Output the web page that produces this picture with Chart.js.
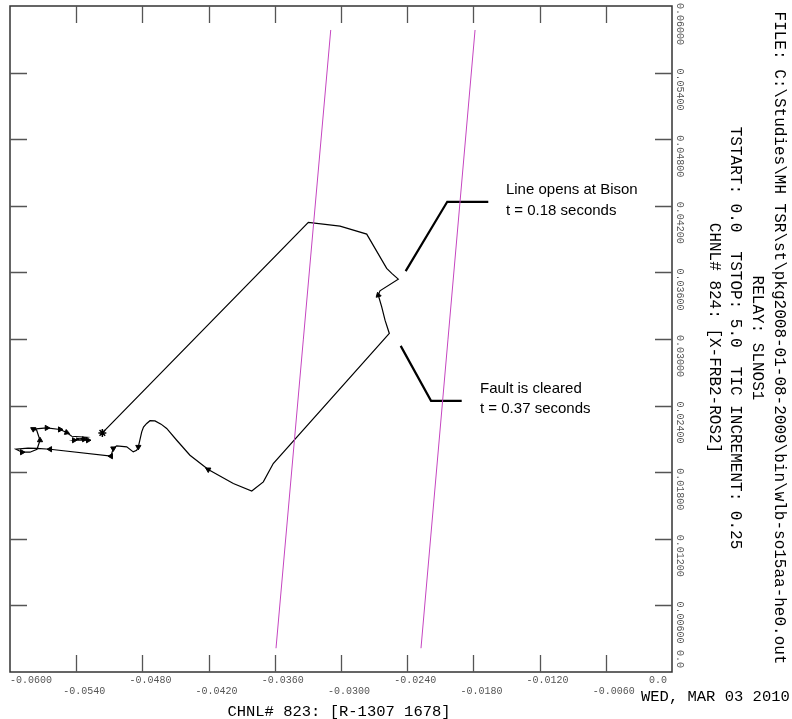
<!DOCTYPE html>
<html>
<head>
<meta charset="utf-8">
<script src="https://cdn.jsdelivr.net/npm/chart.js@4"></script>
<style>
  html, body { margin: 0; padding: 0; background: #fff; }
  canvas { display: block; }
</style>
</head>
<body>
<canvas id="rx-chart" width="792" height="719"></canvas>
<script>
// trajectory of the impedance seen by the relay (R on x, X on y)
const traj_x = [-0.05163, -0.03296, -0.03009, -0.02767, -0.02586, -0.02540, -0.02481, -0.02647, -0.02662,
    -0.02631, -0.02601, -0.02562, -0.03614, -0.03704, -0.03809, -0.03976, -0.04203, -0.04369, -0.04489,
    -0.04580, -0.04631, -0.04686, -0.04731, -0.04761, -0.04790, -0.04806, -0.04837, -0.04852, -0.04883,
    -0.04942, -0.05033, -0.05064, -0.05085, -0.05637, -0.05758, -0.05837, -0.05946, -0.05891, -0.05819,
    -0.05755, -0.05728, -0.05758, -0.05789, -0.05667, -0.05547, -0.05486, -0.05441, -0.05305, -0.05420,
    -0.05293, -0.05402, -0.05329];
const traj_y = [0.02154, 0.04051, 0.04017, 0.03945, 0.03636, 0.03591, 0.03539, 0.03434, 0.03395,
    0.03290, 0.03170, 0.03050, 0.01878, 0.01713, 0.01631, 0.01698, 0.01824, 0.01953, 0.02088,
    0.02194, 0.02233, 0.02262, 0.02264, 0.02239, 0.02206, 0.02163, 0.02028, 0.01998, 0.01983,
    0.02028, 0.02037, 0.02014, 0.01944, 0.02007, 0.02014, 0.02016, 0.02007, 0.01980, 0.01980,
    0.02007, 0.02088, 0.02178, 0.02188, 0.02199, 0.02185, 0.02158, 0.02124, 0.02115, 0.02088,
    0.02088, 0.02106, 0.02097];

// direction arrows along the trajectory (rotation in degrees)
const arrow_x = [-0.02662, -0.04203, -0.04837, -0.05064, -0.05085, -0.05637, -0.05891, -0.05728,
    -0.05789, -0.05667, -0.05547, -0.05486, -0.05420, -0.05329, -0.05293];
const arrow_y = [0.03395, 0.01824, 0.02028, 0.02014, 0.01944, 0.02007, 0.01980, 0.02088,
    0.02188, 0.02199, 0.02185, 0.02158, 0.02088, 0.02097, 0.02088];
const arrow_rot = [225, 300, 180, 300, 270, 270, 90, 0, 180, 90, 90, 110, 90, 90, 90];

// relay characteristic lines (magenta)
const zone_a_x = [-0.03093, -0.03589];
const zone_a_y = [0.05784, 0.00214];
const zone_b_x = [-0.01785, -0.02275];
const zone_b_y = [0.05784, 0.00214];

// callout leaders
const lead_a_x = [-0.02414, -0.02037, -0.01665];
const lead_a_y = [0.03612, 0.04236, 0.04236];
const lead_b_x = [-0.02459, -0.02184, -0.01906];
const lead_b_y = [0.02938, 0.02443, 0.02443];
const note_a = ['Line opens at Bison', 't = 0.18 seconds'];
const note_a_at = [-0.01505, 0.04342];
const note_b = ['Fault is cleared', 't = 0.37 seconds'];
const note_b_at = [-0.01740, 0.02548];

// axes
const x_ticks = [-0.06, -0.054, -0.048, -0.042, -0.036, -0.030, -0.024, -0.018, -0.012, -0.006, 0];
const x_labels = ['-0.0600', '-0.0540', '-0.0480', '-0.0420', '-0.0360', '-0.0300', '-0.0240',
    '-0.0180', '-0.0120', '-0.0060', '0.0'];
const y_ticks = [0.06, 0.054, 0.048, 0.042, 0.036, 0.030, 0.024, 0.018, 0.012, 0.006, 0];
const y_labels = ['0.06000', '0.05400', '0.04800', '0.04200', '0.03600', '0.03000', '0.02400',
    '0.01800', '0.01200', '0.00600', '0.0'];

const header_lines = [
    'FILE: C:\\Studies\\MH TSR\\st\\pkg2008-01-08-2009\\bin\\wlb-so15aa-he0.out',
    'RELAY: SLNOS1',
    'TSTART: 0.0  TSTOP: 5.0  TIC INCREMENT: 0.25',
    'CHNL# 824: [X-FRB2-ROS2]'
];
const header_cols = [779, 757, 735, 714];
const x_title = 'CHNL# 823: [R-1307 1678]';
const date_text = 'WED, MAR 03 2010';

function pts(xs, ys) {
    return xs.map((v, i) => ({x: v, y: ys[i]}));
}

const frame_plugin = {
    id: 'frame',
    afterDraw(chart) {
        const ctx = chart.ctx;
        const xs = chart.scales.x, ys = chart.scales.y;
        const a = chart.chartArea;
        ctx.save();

        // border
        ctx.strokeStyle = '#333';
        ctx.lineWidth = 1.5;
        ctx.strokeRect(a.left, a.top, a.right - a.left, a.bottom - a.top);

        // inward tick marks
        ctx.strokeStyle = '#555';
        ctx.lineWidth = 1.3;
        const tl = 17;
        ctx.beginPath();
        x_ticks.forEach((v, i) => {
            if (i == 0 || i == x_ticks.length - 1) return;
            const px = Math.round(xs.getPixelForValue(v)) + 0.5;
            ctx.moveTo(px, a.top); ctx.lineTo(px, a.top + tl);
            ctx.moveTo(px, a.bottom); ctx.lineTo(px, a.bottom - tl);
        });
        y_ticks.forEach((v, i) => {
            if (i == 0 || i == y_ticks.length - 1) return;
            const py = Math.round(ys.getPixelForValue(v)) + 0.5;
            ctx.moveTo(a.left, py); ctx.lineTo(a.left + tl, py);
            ctx.moveTo(a.right, py); ctx.lineTo(a.right - tl, py);
        });
        ctx.stroke();

        // x tick labels, staggered on two rows
        ctx.font = '10px "Liberation Mono"';
        ctx.fillStyle = '#555';
        ctx.textBaseline = 'middle';
        ctx.textAlign = 'left';
        x_labels.forEach((t, i) => {
            const w = ctx.measureText(t).width;
            let left = xs.getPixelForValue(x_ticks[i]) + 8 - w / 2;
            left = Math.max(left, a.left);
            left = Math.min(left, a.right - 5 - w);
            ctx.fillText(t, left, i % 2 == 0 ? 680 : 691);
        });

        // y tick labels, rotated, right of the frame
        y_labels.forEach((t, i) => {
            const w = ctx.measureText(t).width;
            let top = ys.getPixelForValue(y_ticks[i]) + 17 - w / 2;
            top = Math.max(top, 3);
            top = Math.min(top, a.bottom - 4 - w);
            ctx.save();
            ctx.translate(680, top);
            ctx.rotate(Math.PI / 2);
            ctx.fillText(t, 0, 0);
            ctx.restore();
        });

        // run information
        ctx.font = '16px "Liberation Mono"';
        ctx.fillStyle = '#000';
        ctx.textAlign = 'center';
        header_lines.forEach((t, i) => {
            ctx.save();
            ctx.translate(header_cols[i], 338);
            ctx.rotate(Math.PI / 2);
            ctx.fillText(t, 0, 0);
            ctx.restore();
        });
        ctx.font = '15.5px "Liberation Mono"';
        ctx.fillText(x_title, 339, 712);
        ctx.textAlign = 'left';
        ctx.fillText(date_text, 641, 697);

        // callouts
        ctx.font = '15px "Liberation Sans"';
        note_a.forEach((t, i) => {
            ctx.fillText(t, xs.getPixelForValue(note_a_at[0]), ys.getPixelForValue(note_a_at[1]) + i * 21);
        });
        note_b.forEach((t, i) => {
            ctx.fillText(t, xs.getPixelForValue(note_b_at[0]), ys.getPixelForValue(note_b_at[1]) + i * 20);
        });
        ctx.restore();
    }
};

new Chart(document.getElementById('rx-chart'), {
    type: 'scatter',
    data: {
        datasets: [
            {
                data: pts(zone_a_x, zone_a_y),
                showLine: true, borderColor: '#c545c0', borderWidth: 1, pointRadius: 0
            },
            {
                data: pts(zone_b_x, zone_b_y),
                showLine: true, borderColor: '#c545c0', borderWidth: 1, pointRadius: 0
            },
            {
                data: pts(traj_x, traj_y),
                showLine: true, borderColor: '#000', borderWidth: 1.2, pointRadius: 0
            },
            {
                data: pts(arrow_x, arrow_y),
                showLine: false, pointStyle: 'triangle', pointRadius: 3,
                rotation: arrow_rot, backgroundColor: '#000', borderColor: '#000', borderWidth: 1
            },
            {
                data: pts([traj_x[0]], [traj_y[0]]),
                showLine: false, pointStyle: 'star', pointRadius: 4,
                borderColor: '#000', borderWidth: 1.5
            },
            {
                data: pts(lead_a_x, lead_a_y),
                showLine: true, borderColor: '#000', borderWidth: 2.2, pointRadius: 0
            },
            {
                data: pts(lead_b_x, lead_b_y),
                showLine: true, borderColor: '#000', borderWidth: 2.2, pointRadius: 0
            }
        ]
    },
    options: {
        responsive: false,
        animation: false,
        devicePixelRatio: 1,
        layout: {
            padding: {left: 10, top: 6, right: 120, bottom: 47}
        },
        plugins: {
            legend: {display: false},
            tooltip: {enabled: false}
        },
        scales: {
            x: {type: 'linear', min: -0.06, max: 0, display: false},
            y: {type: 'linear', min: 0, max: 0.06, display: false}
        }
    },
    plugins: [frame_plugin]
});
</script>
</body>
</html>
